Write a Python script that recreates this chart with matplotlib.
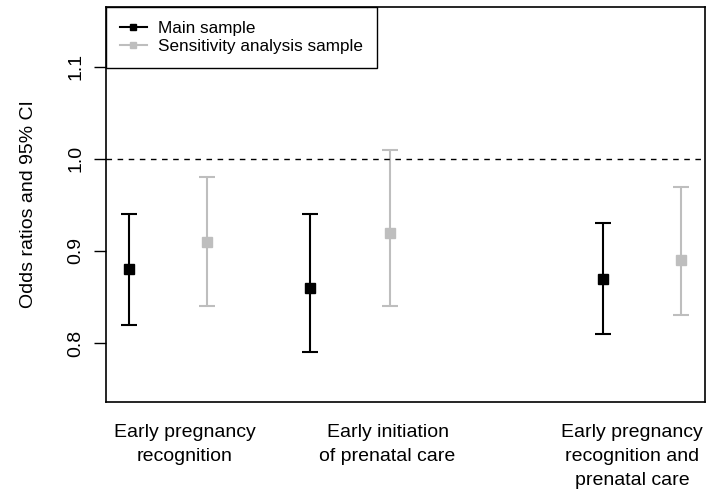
import numpy as np
import matplotlib.pyplot as plt
from matplotlib.lines import Line2D

plt.rcParams['font.family'] = ['Liberation Sans', 'DejaVu Sans']

outcomes = ['Early pregnancy\nrecognition', 'Early initiation\nof prenatal care',
            'Early pregnancy\nrecognition and\nprenatal care']
label_x = [0.79, 2.82, 5.27]

main_x = [0.23, 2.04, 4.98]
main_or = [0.88, 0.86, 0.87]
main_lo = [0.82, 0.79, 0.81]
main_hi = [0.94, 0.94, 0.93]

sens_x = [1.01, 2.84, 5.76]
sens_or = [0.91, 0.92, 0.89]
sens_lo = [0.84, 0.84, 0.83]
sens_hi = [0.98, 1.01, 0.97]

grey = '#BEBEBE'

fig = plt.figure(figsize=(7.08, 4.91), dpi=100)
ax = fig.add_axes([0.1497, 0.1813, 0.9958 - 0.1497, 0.9857 - 0.1813])

def draw(x, est, lo, hi, col):
    x = np.array(x); est = np.array(est)
    err = [est - np.array(lo), np.array(hi) - est]
    ax.errorbar(x, est, yerr=err, fmt='s', color=col, ecolor=col, ms=7.2,
                elinewidth=1.5, capsize=6, capthick=1.5)

draw(main_x, main_or, main_lo, main_hi, 'black')
draw(sens_x, sens_or, sens_lo, sens_hi, grey)

ax.axhline(1.0, color='black', lw=1, ls=(0, (4, 4)))

ax.set_xlim(0, 6)
ax.set_ylim(0.736, 1.165)
ax.set_yticks([0.8, 0.9, 1.0, 1.1])
ax.set_yticklabels(['0.8', '0.9', '1.0', '1.1'], rotation=90, va='center', fontsize=14)
ax.tick_params(axis='y', length=8.5, width=1, pad=7)
ax.set_xticks([])
for xx, t in zip(label_x, outcomes):
    ax.text(xx, -0.055, t, transform=ax.get_xaxis_transform(), ha='center', va='top',
            fontsize=14, linespacing=1.55)
ax.set_ylabel('Odds ratios and 95% CI', fontsize=14, labelpad=22)
for s in ax.spines.values():
    s.set_linewidth(1.2)

handles = [Line2D([], [], color='black', lw=1.5, marker='s', ms=5),
           Line2D([], [], color=grey, lw=1.5, marker='s', ms=5)]
leg = ax.legend(handles, ['Main sample', 'Sensitivity analysis sample'],
                loc='upper left', fontsize=12.3, frameon=True, fancybox=False,
                edgecolor='black', framealpha=1, borderaxespad=0, handlelength=1.6,
                handletextpad=0.65, borderpad=0.8, labelspacing=0.22)
leg.get_frame().set_linewidth(1)

fig.savefig('out.png', dpi=100)
